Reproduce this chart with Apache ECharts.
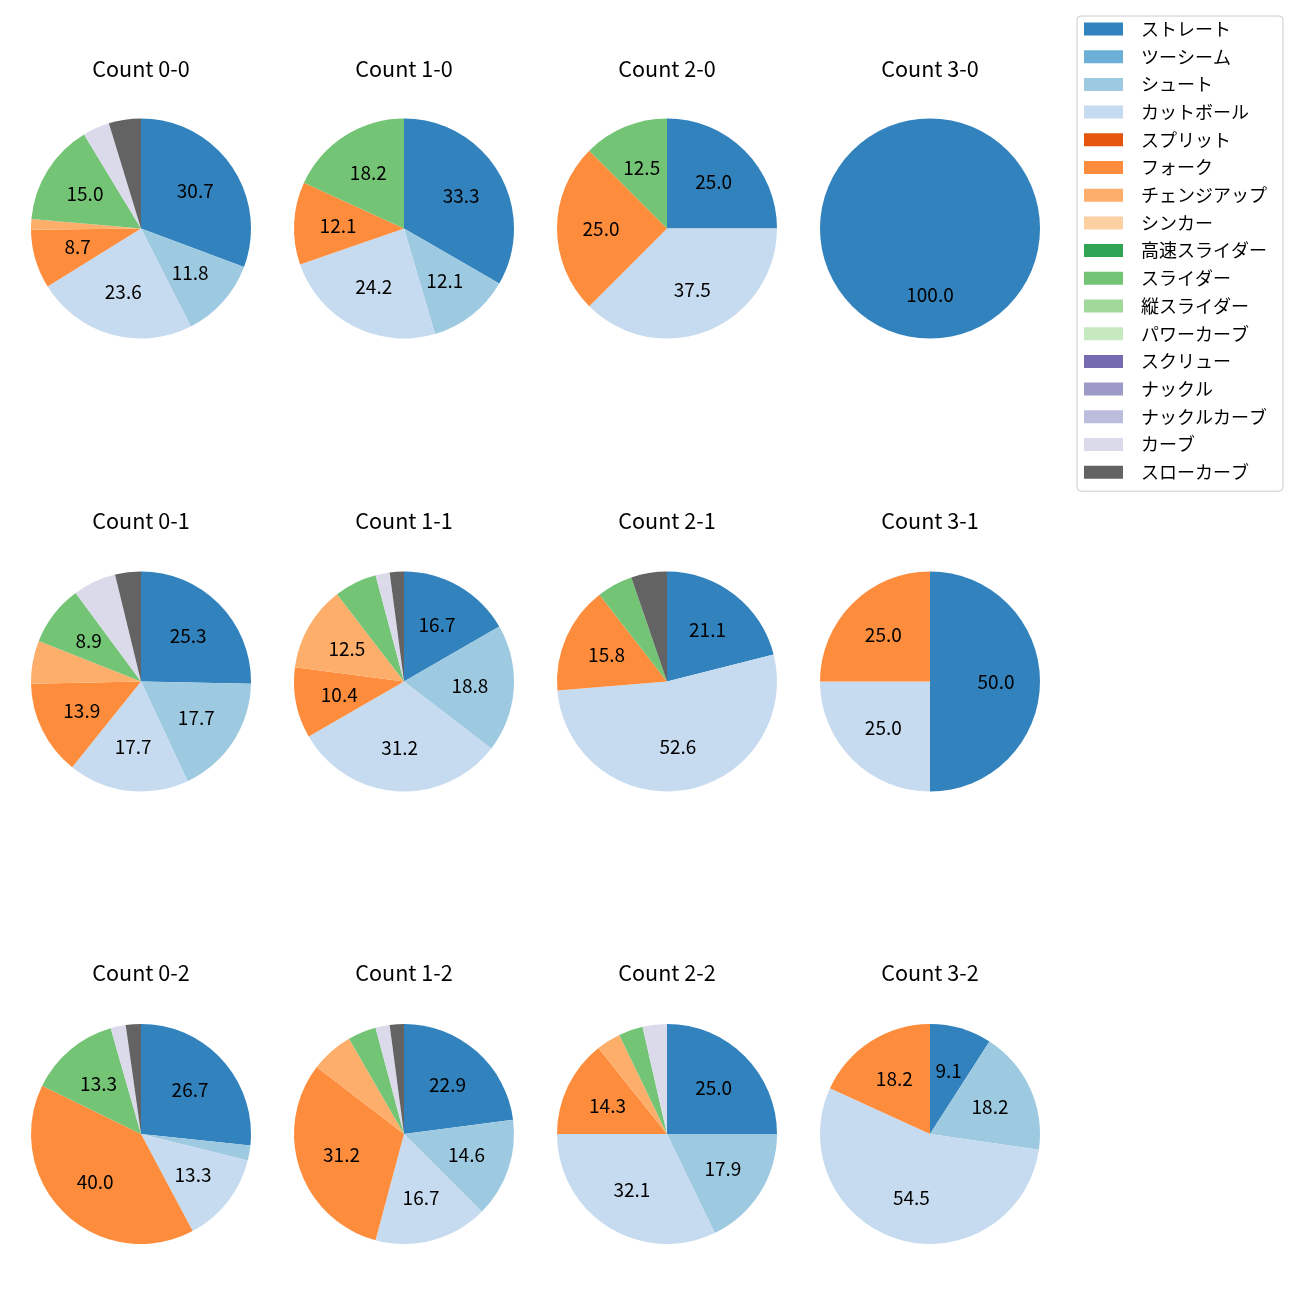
<!DOCTYPE html>
<html>
<head>
<meta charset="utf-8">
<script src="https://cdn.jsdelivr.net/npm/echarts@6/dist/echarts.min.js"></script>
<style>
html,body{margin:0;padding:0;background:#fff;}
#main{width:1300px;height:1300px;}
</style>
</head>
<body>
<div id="main"></div>
<script>
const categories = ['ストレート','ツーシーム','シュート','カットボール','スプリット','フォーク','チェンジアップ','シンカー','高速スライダー','スライダー','縦スライダー','パワーカーブ','スクリュー','ナックル','ナックルカーブ','カーブ','スローカーブ'];
const colors = ['#3182bd','#6baed6','#9ecae1','#c6dbef','#e6550d','#fd8d3c','#fdae6b','#fdd0a2','#31a354','#74c476','#a1d99b','#c7e9c0','#756bb1','#9e9ac8','#bcbddc','#dadaeb','#636363'];

const titles = ['Count 0-0','Count 1-0','Count 2-0','Count 3-0',
                'Count 0-1','Count 1-1','Count 2-1','Count 3-1',
                'Count 0-2','Count 1-2','Count 2-2','Count 3-2'];

// pitch counts per category (same order as categories)
const count00 = [39,0,15,30,0,11,2,0,0,19,0,0,0,0,0,5,6];
const count10 = [11,0,4,8,0,4,0,0,0,6,0,0,0,0,0,0,0];
const count20 = [2,0,0,3,0,2,0,0,0,1,0,0,0,0,0,0,0];
const count30 = [1,0,0,0,0,0,0,0,0,0,0,0,0,0,0,0,0];
const count01 = [20,0,14,14,0,11,5,0,0,7,0,0,0,0,0,5,3];
const count11 = [8,0,9,15,0,5,6,0,0,3,0,0,0,0,0,1,1];
const count21 = [4,0,0,10,0,3,0,0,0,1,0,0,0,0,0,0,1];
const count31 = [2,0,0,1,0,1,0,0,0,0,0,0,0,0,0,0,0];
const count02 = [12,0,1,6,0,18,0,0,0,6,0,0,0,0,0,1,1];
const count12 = [11,0,7,8,0,15,3,0,0,2,0,0,0,0,0,1,1];
const count22 = [7,0,5,9,0,4,1,0,0,1,0,0,0,0,0,1,0];
const count32 = [1,0,2,6,0,2,0,0,0,0,0,0,0,0,0,0,0];

const allCounts = [count00,count10,count20,count30,count01,count11,count21,count31,count02,count12,count22,count32];

const colX = [141,404,667,930];
const rowY = [228.5,681.5,1134];
const titleY = [69,521,973];
const R = 110;
const FONT = '"Noto Sans CJK JP", "Noto Sans", sans-serif';

function fmtHalfEven(p){
  const s = p*10;
  const f = Math.floor(s);
  const d = s - f;
  let n;
  if (Math.abs(d-0.5) < 1e-9) n = (f % 2 === 0) ? f : f+1;
  else n = Math.round(s);
  return (n/10).toFixed(1);
}

const series = [];
const titleOpts = [];
allCounts.forEach((arr, i) => {
  const c = i % 4, r = Math.floor(i / 4);
  const total = arr.reduce((a,b)=>a+b,0);
  const data = categories.map((name, k) => ({name: name, value: arr[k], itemStyle:{color: colors[k]}}));
  series.push({
    type:'pie', center:[colX[c], rowY[r]], radius:[0,R], startAngle:90, clockwise:true,
    data: data, label:{show:false}, labelLine:{show:false}, silent:true,
    emphasis:{disabled:true}, avoidLabelOverlap:false, animation:false
  });
  // overlay for labels at ~0.6 * radius
  const data2 = categories.map((name, k) => ({name: name, value: arr[k], itemStyle:{color:'rgba(0,0,0,0)'}}));
  series.push({
    type:'pie', center:[colX[c], rowY[r]], radius:[16,R], startAngle:90, clockwise:true,
    data: data2, silent:true, emphasis:{disabled:true}, avoidLabelOverlap:false, animation:false,
    labelLine:{show:false},
    label:{show:true, position:'inside', color:'#000', fontSize:19, fontFamily:FONT, padding:[0,0,7,0],
      formatter: function(p){ const pct = p.value*100/total; return pct >= 7 ? fmtHalfEven(pct) : ''; }}
  });
  titleOpts.push({text: titles[i], left: colX[c], top: titleY[r]-11, textAlign:'center', padding:0,
    textStyle:{fontSize:21.6, fontWeight:'normal', color:'#000', fontFamily:FONT}});
});

const chart = echarts.init(document.getElementById('main'));
chart.setOption({
  backgroundColor:'#fff',
  animation:false,
  title: titleOpts,
  legend: {
    orient:'vertical', left:1077, top:16,
    data: categories,
    itemWidth:39, itemHeight:13, itemGap:9.7,
    icon:'rect',
    padding:[4,16,10,7],
    borderColor:'#cccccc', borderWidth:1, borderRadius:4,
    backgroundColor:'rgba(255,255,255,0.8)',
    selectedMode:false,
    textStyle:{fontSize:18, color:'#000', fontFamily:FONT, lineHeight:18, padding:[0,0,0,13]}
  },
  series: series
});
</script>
</body>
</html>
